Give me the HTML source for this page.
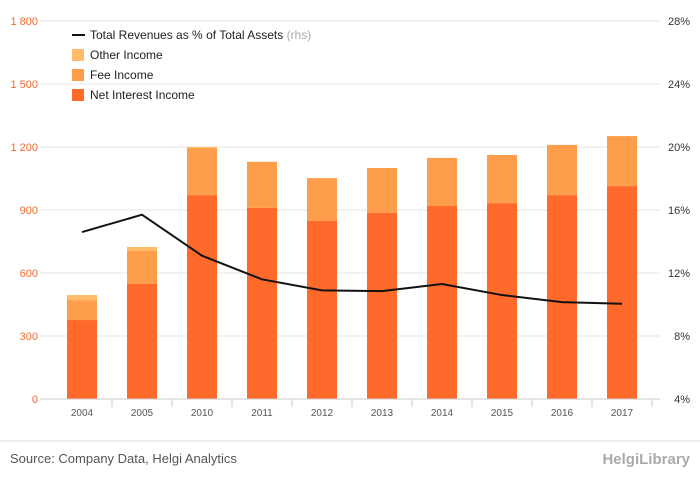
<!DOCTYPE html>
<html><head><meta charset="utf-8"><style>
body{margin:0;background:#fff;font-family:"Liberation Sans",sans-serif}
svg{display:block}
</style></head><body>
<svg id="c" width="700" height="483"></svg>
<script>
const categories=["2004","2005","2010","2011","2012","2013","2014","2015","2016","2017"];
const netInterest=[376,548,971,910,848,886,919,933,971,1014];
const feeIncome=[95,157,224,219,204,214,229,229,239,238];
const otherIncome=[24,19,5,1,0,0,0,0,0,0];
const revPct=[14.6,15.7,13.1,11.6,10.9,10.85,11.3,10.6,10.15,10.05];
const leftTicks=[0,300,600,900,1200,1500,1800];
const rightTicks=[4,8,12,16,20,24,28];
const ns="http://www.w3.org/2000/svg",svg=document.getElementById('c');
function el(t,a,p){const e=document.createElementNS(ns,t);for(const k in a)e.setAttribute(k,a[k]);(p||svg).appendChild(e);return e;}
const y0=399,yTop=21,x0=52,band=60;
const yL=v=>y0-(v/1800)*(y0-yTop);
const yR=v=>y0-((v-4)/24)*(y0-yTop);
const xC=i=>x0+band*i+band/2;
leftTicks.forEach(t=>{
 const g=el('line',{x1:40,x2:660,y1:yL(t),y2:yL(t),stroke:'#e6e6e6','stroke-width':1});
 
 const tx=el('text',{x:38,y:yL(t)+4,'text-anchor':'end','font-size':11,fill:'#f26a2e'});tx.textContent=t===0?'0':t.toLocaleString('en').replace(',',' ');
 
});
rightTicks.forEach(t=>{
 const tx=el('text',{x:690,y:yR(t)+4,'text-anchor':'end','font-size':11,fill:'#333'});tx.textContent=t+'%';
 
});
categories.forEach((c,i)=>{
 const cx=xC(i),w=30,x=cx-w/2;
 let base=0;
 [[netInterest[i],'#ff6a2b','bar-net-interest'],[feeIncome[i],'#ff9e4a','bar-fee-income'],[otherIncome[i],'#ffbd6a','bar-other-income']].forEach(([v,col,n])=>{
  const r=el('rect',{x:x,y:yL(base+v),width:w,height:yL(base)-yL(base+v),fill:col});
  
  base+=v;
 });
 const tk=el('line',{x1:x0+band*(i+1),x2:x0+band*(i+1),y1:y0,y2:y0+8,stroke:'#ccc'});
 
 const tx=el('text',{x:cx,y:416,'text-anchor':'middle','font-size':10,fill:'#555'});tx.textContent=c;
 
});
const ax=el('line',{x1:40,x2:660,y1:y0,y2:y0,stroke:'#ccc'});

const ln=el('polyline',{points:revPct.map((v,i)=>xC(i)+','+yR(v)).join(' '),fill:'none',stroke:'#111','stroke-width':2});

// legend
const lg=el('g',{});
const ll=el('line',{x1:72,x2:85,y1:35,y2:35,stroke:'#111','stroke-width':2},lg);

const lt=el('text',{x:90,y:39,'font-size':12,fill:'#222'},lg);lt.innerHTML='Total Revenues as % of Total Assets <tspan fill="#aaa">(rhs)</tspan>';

[['Other Income','#ffbd6a',55],['Fee Income','#ff9e4a',75],['Net Interest Income','#ff6a2b',95]].forEach(([t,c,y])=>{
 const r=el('rect',{x:72,y:y-6,width:12,height:12,fill:c},lg);
 const tx=el('text',{x:90,y:y+4,'font-size':12,fill:'#222'},lg);tx.textContent=t;
 
});
const sep=el('line',{x1:0,x2:700,y1:441,y2:441,stroke:'#ddd'});
const src=el('text',{x:10,y:463,'font-size':13,fill:'#555'});src.textContent='Source: Company Data, Helgi Analytics';

const logo=el('text',{x:690,y:464,'text-anchor':'end','font-size':15,fill:'#aaa','font-weight':'bold'});logo.textContent='HelgiLibrary';

</script>
</body></html>
